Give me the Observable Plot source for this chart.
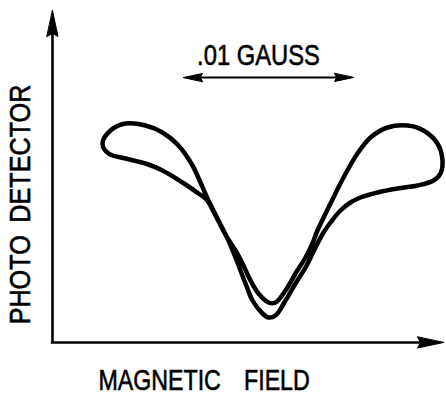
<!DOCTYPE html>
<html>
<head>
<meta charset="utf-8">
<script src="https://cdn.jsdelivr.net/npm/d3@7"></script>
<script src="https://cdn.jsdelivr.net/npm/@observablehq/plot@0.6"></script>
<style>
  html, body { margin: 0; padding: 0; background: #fff; }
</style>
</head>
<body>
<div id="chart"></div>
<script>
// Sweep with increasing field: upper-left lobe -> outer (deeper) dip -> lower-right lobe
const fieldUp  = [12.5, 14.5, 18.25, 23.25, 27.5, 31.5, 35, 37, 39, 41.5, 44, 45.75, 48.25, 50, 52.5, 54, 55.75, 58.25, 60.75, 63.25, 65.75, 67.75, 69.5, 72, 74.5, 77, 81.25, 86.25, 91.25, 95.25, 97, 97.5];
const signalUp = [49.75, 53, 54.75, 54.25, 52.5, 49.25, 44.25, 40, 35.5, 30.5, 25.5, 21.25, 14.75, 10.5, 7.25, 6.25, 6.75, 10.5, 14.75, 18.75, 23.75, 27.5, 30, 33, 35, 36.25, 37.5, 38.5, 39.25, 40.5, 42.25, 45.5];

// Sweep with decreasing field: upper-right lobe -> inner (shallower) dip -> lower-left lobe
const fieldDown  = [97.5, 96.25, 92.75, 88.75, 83.75, 79.5, 76.25, 72.75, 69.5, 66.25, 65, 63.25, 60.75, 58.25, 55.75, 54, 51.5, 49.5, 47.5, 45.75, 43.5, 41, 38.5, 36.5, 32.5, 27.5, 23.25, 18.25, 14, 12.5];
const signalDown = [45.5, 49.75, 53, 54.25, 53.75, 51.25, 47.25, 41.25, 34.75, 28, 24.75, 21.25, 17.25, 13, 10, 10, 12.25, 15.5, 19.75, 23, 26.5, 31.25, 35.75, 37.25, 40, 43, 44.75, 46, 47.25, 49.75];

// Axes extents (arbitrary units)
const fieldExtent  = [0, 97.75];
const signalExtent = [0, 83];

// Scale bar: ".01 GAUSS"
const scaleBarLabel = ".01 GAUSS";
const scaleBarFrom  = 32.75;
const scaleBarTo    = 75.25;
const scaleBarLevel = 66.25;

// Axis titles
const xTitle = "MAGNETIC\u2003FIELD";
const yTitle = "PHOTO\u2002DETECTOR";

// Build the closed loop
const loop = [
  ...fieldUp.map((x, i) => ({x, y: signalUp[i]})),
  ...fieldDown.slice(1, -1).map((x, i) => ({x, y: signalDown[i + 1]}))
];

const font = "'Liberation Sans', Arial, Helvetica, sans-serif";
const arrowHead = {
  draw(context, l, r) {
    context.moveTo(0, -l);
    context.lineTo(r, 0);
    context.lineTo(0, -l * 0.12);
    context.lineTo(-r, 0);
    context.closePath();
  }
};

const svg = Plot.plot({
  width: 446,
  height: 396,
  marginLeft: 52,
  marginRight: 3,
  marginTop: 10,
  marginBottom: 54,
  style: {background: "white", fontFamily: font},
  x: {domain: fieldExtent, axis: null},
  y: {domain: signalExtent, axis: null},
  marks: [
    // axes
    Plot.ruleX([fieldExtent[0]], {y1: signalExtent[0], y2: signalExtent[1] - 3, stroke: "black", strokeWidth: 2.6}),
    Plot.ruleY([signalExtent[0]], {x1: fieldExtent[0] - 0.3, x2: fieldExtent[1] - 3, stroke: "black", strokeWidth: 2.6}),
    Plot.vector([{x: fieldExtent[0], y: signalExtent[1]}], {x: "x", y: "y", rotate: 0, length: 26, r: 5.5, anchor: "end", shape: arrowHead, fill: "black", stroke: "black", strokeWidth: 1}),
    Plot.vector([{x: fieldExtent[1], y: signalExtent[0]}], {x: "x", y: "y", rotate: 90, length: 26, r: 5.5, anchor: "end", shape: arrowHead, fill: "black", stroke: "black", strokeWidth: 1}),
    // scale bar
    Plot.ruleY([scaleBarLevel], {x1: scaleBarFrom + 2, x2: scaleBarTo - 2, stroke: "black", strokeWidth: 2}),
    Plot.vector([{x: scaleBarFrom, y: scaleBarLevel}], {x: "x", y: "y", rotate: -90, length: 19, r: 4, anchor: "end", shape: arrowHead, fill: "black", stroke: "black", strokeWidth: 1}),
    Plot.vector([{x: scaleBarTo, y: scaleBarLevel}], {x: "x", y: "y", rotate: 90, length: 19, r: 4, anchor: "end", shape: arrowHead, fill: "black", stroke: "black", strokeWidth: 1}),
    Plot.text([scaleBarLabel], {x: (scaleBarFrom + scaleBarTo) / 2 - 2.5, y: 71.75, text: d => d, fontSize: 29, fontFamily: font, textAnchor: "middle", lineAnchor: "middle", fill: "black", stroke: "black", strokeWidth: 0.6}),
    // hysteresis loop
    Plot.line(loop, {x: "x", y: "y", curve: "catmull-rom-closed", stroke: "black", strokeWidth: 4.5, strokeLinejoin: "round", strokeLinecap: "round"}),
    // axis titles
    Plot.text([xTitle], {x: 37.9, y: -9.5, text: d => d, fontSize: 29, fontFamily: font, textAnchor: "middle", lineAnchor: "middle", fill: "black", stroke: "black", strokeWidth: 0.6}),
    Plot.text([yTitle], {x: -8, y: 34.5, text: d => d, rotate: -90, fontSize: 30, fontFamily: font, textAnchor: "middle", lineAnchor: "middle", fill: "black", stroke: "black", strokeWidth: 0.6})
  ]
});

// condensed lettering like the original figure
const squeeze = {[scaleBarLabel]: 0.82, [xTitle]: 0.8, [yTitle]: 0.84};
d3.select(svg).selectAll("text").each(function () {
  const t = this.getAttribute("transform") || "";
  const s = squeeze[this.textContent] || 0.8;
  this.setAttribute("transform", (t + ` scale(${s},1)`).trim());
});

document.getElementById("chart").appendChild(svg);
</script>
</body>
</html>
